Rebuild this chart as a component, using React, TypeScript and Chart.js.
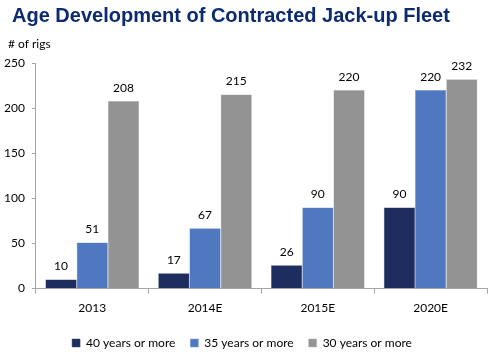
import React, { useEffect, useRef } from "react";
import { Chart, registerables } from "chart.js";

Chart.register(...registerables);

const titleText = "Age Development of Contracted Jack-up Fleet";
const unitText = "# of rigs";
const categories = ["2013", "2014E", "2015E", "2020E"];
const series40 = [10, 17, 26, 90];
const series35 = [51, 67, 90, 220];
const series30 = [208, 215, 220, 232];
const seriesNames = ["40 years or more", "35 years or more", "30 years or more"];
const yTicks = [0, 50, 100, 150, 200, 250];

const TXT_FONT = "Lato, 'Open Sans', sans-serif";

const headerText = {
  id: "headerText",
  afterDraw(chart: any) {
    const ctx = chart.ctx;
    ctx.save();
    ctx.textAlign = "left";
    ctx.textBaseline = "alphabetic";
    ctx.fillStyle = "#0B2A6F";
    ctx.font = "bold 20px 'Liberation Sans', Arial, sans-serif";
    ctx.fillText(titleText, 12, 22);
    ctx.fillStyle = "#000";
    ctx.font = `12px ${TXT_FONT}`;
    ctx.fillText(unitText, 8, 48);
    ctx.restore();
  },
};

const valueLabels = {
  id: "valueLabels",
  afterDatasetsDraw(chart: any) {
    const ctx = chart.ctx;
    ctx.save();
    ctx.font = `12px ${TXT_FONT}`;
    ctx.fillStyle = "#000";
    ctx.textAlign = "center";
    ctx.textBaseline = "middle";
    chart.data.datasets.forEach((ds: any, i: number) => {
      const meta = chart.getDatasetMeta(i);
      meta.data.forEach((bar: any, j: number) => {
        ctx.fillText(String(ds.data[j]), bar.x, bar.y - 13);
      });
    });
    ctx.restore();
  },
};

export default function App() {
  const ref = useRef<HTMLCanvasElement>(null);
  useEffect(() => {
    const chart = new Chart(ref.current!, {
      type: "bar",
      data: {
        labels: categories,
        datasets: [
          { label: seriesNames[0], data: series40, backgroundColor: "#1D2D5E", borderColor: "#3A4A7A", borderWidth: 0.5 },
          { label: seriesNames[1], data: series35, backgroundColor: "#4F78C0", borderColor: "#7A9AD6", borderWidth: 0.5 },
          { label: seriesNames[2], data: series30, backgroundColor: "#939393", borderColor: "#B5B5B5", borderWidth: 0.5 },
        ],
      },
      options: {
        animation: false,
        responsive: false,
        layout: { padding: { left: -3, right: 5, top: 63, bottom: -4 } },
        datasets: { bar: { categoryPercentage: 0.83, barPercentage: 1.0 } },
        plugins: {
          legend: {
            position: "bottom",
            labels: {
              boxWidth: 8,
              boxHeight: 8,
              color: "#000",
              font: { family: TXT_FONT, size: 12 },
              padding: 15,
            },
          },
          tooltip: { enabled: false },
        },
        scales: {
          x: {
            grid: { display: true, drawOnChartArea: false, tickLength: 5, color: "#A6A6A6", offset: true },
            border: { color: "#A6A6A6" },
            ticks: { color: "#000", font: { family: TXT_FONT, size: 12 }, padding: 7 },
          },
          y: {
            min: 0,
            max: 250,
            afterBuildTicks: (axis: any) => {
              axis.ticks = yTicks.map((v) => ({ value: v }));
            },
            grid: { display: true, drawOnChartArea: false, tickLength: 4, color: "#A6A6A6" },
            border: { color: "#A6A6A6" },
            ticks: { color: "#000", font: { family: TXT_FONT, size: 12 }, padding: 7 },
          },
        },
      },
      plugins: [valueLabels, headerText],
    });
    return () => chart.destroy();
  }, []);
  return (
    <div style={{ position: "absolute", left: 0, top: 0, width: 492, height: 355, background: "#fff" }}>
      <canvas ref={ref} width={492} height={355} />
    </div>
  );
}
